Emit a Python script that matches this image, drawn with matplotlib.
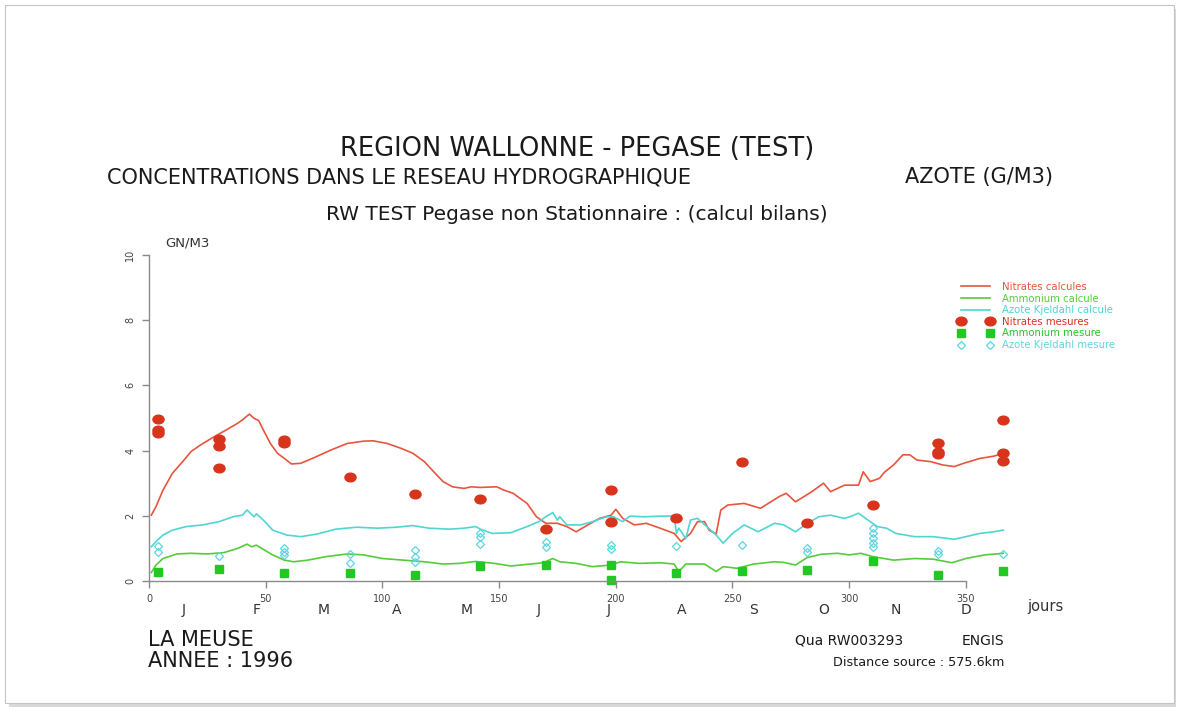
import matplotlib
matplotlib.use('Agg')
import matplotlib.pyplot as plt
from matplotlib.path import Path
from matplotlib.patches import Rectangle
import numpy as np

# simulated series (day of year, g/m3)
nit_days = [1, 3, 6, 10, 15, 18, 22, 28, 33, 38, 40, 43, 45, 47, 49, 52, 55, 58, 61, 65,
            70, 78, 85, 92, 96, 102, 108, 113, 118, 122, 126, 130, 135, 138, 142, 149, 152,
            156, 162, 166, 170, 175, 179, 183, 188, 193, 198, 200, 203, 208, 213, 219, 225,
            228, 232, 235, 238, 240, 243, 245, 248, 255, 262, 270, 273, 277, 284, 289, 292,
            298, 304, 306, 309, 313, 315, 319, 323, 326, 329, 335, 340, 345, 349, 356, 362, 366]
nit_calc = [2.02, 2.28, 2.79, 3.30, 3.71, 3.97, 4.17, 4.43, 4.63, 4.84, 4.94, 5.12, 4.99,
            4.92, 4.63, 4.22, 3.92, 3.76, 3.59, 3.61, 3.76, 4.02, 4.22, 4.29, 4.30, 4.22,
            4.07, 3.92, 3.66, 3.35, 3.05, 2.89, 2.84, 2.89, 2.87, 2.89, 2.79, 2.69, 2.38,
            1.97, 1.77, 1.77, 1.67, 1.51, 1.72, 1.92, 2.02, 2.20, 1.92, 1.72, 1.77, 1.62,
            1.46, 1.21, 1.46, 1.82, 1.82, 1.56, 1.44, 2.18, 2.33, 2.38, 2.23, 2.59, 2.69,
            2.43, 2.74, 3.00, 2.74, 2.94, 2.94, 3.35, 3.05, 3.15, 3.33, 3.56, 3.87, 3.87,
            3.71, 3.66, 3.56, 3.51, 3.61, 3.76, 3.83, 3.92]

kj_days = [1, 3, 6, 10, 16, 23, 30, 36, 40, 42, 45, 46, 49, 53, 59, 65, 72, 80, 89, 98,
           106, 113, 120, 129, 135, 140, 142, 147, 155, 162, 167, 170, 173, 175, 176, 179,
           185, 190, 196, 199, 203, 206, 212, 219, 225, 226, 227, 230, 232, 235, 239, 243,
           246, 250, 255, 261, 268, 272, 277, 282, 287, 292, 298, 301, 304, 308, 312, 316,
           320, 328, 336, 345, 350, 356, 362, 366]
kj_calc = [1.05, 1.21, 1.41, 1.56, 1.67, 1.72, 1.82, 1.97, 2.02, 2.18, 1.97, 2.06, 1.87,
           1.56, 1.41, 1.36, 1.44, 1.59, 1.65, 1.62, 1.65, 1.70, 1.62, 1.59, 1.62, 1.67,
           1.59, 1.46, 1.48, 1.67, 1.82, 1.97, 2.10, 1.87, 1.97, 1.72, 1.72, 1.82, 1.97,
           1.97, 1.82, 1.99, 1.97, 1.99, 1.99, 1.46, 1.62, 1.30, 1.87, 1.92, 1.67, 1.41,
           1.16, 1.46, 1.72, 1.51, 1.77, 1.72, 1.51, 1.77, 1.97, 2.02, 1.92, 1.99, 2.08,
           1.87, 1.67, 1.62, 1.46, 1.36, 1.36, 1.28, 1.36, 1.46, 1.51, 1.56]

nh4_days = [1, 3, 6, 12, 18, 25, 32, 38, 42, 44, 46, 49, 53, 58, 62, 68, 76, 85, 92, 100,
            109, 118, 126, 133, 140, 148, 155, 162, 169, 173, 176, 183, 190, 198, 202, 210,
            219, 225, 227, 230, 238, 243, 246, 252, 259, 268, 272, 277, 282, 288, 295, 300,
            305, 310, 319, 328, 336, 344, 350, 358, 366]
nh4_calc = [0.26, 0.49, 0.69, 0.83, 0.85, 0.83, 0.87, 1.00, 1.13, 1.05, 1.10, 0.97, 0.80,
            0.64, 0.59, 0.64, 0.75, 0.83, 0.80, 0.69, 0.64, 0.59, 0.52, 0.54, 0.60, 0.54,
            0.46, 0.51, 0.56, 0.69, 0.59, 0.54, 0.44, 0.49, 0.59, 0.54, 0.56, 0.52, 0.29,
            0.52, 0.52, 0.29, 0.44, 0.39, 0.52, 0.59, 0.57, 0.49, 0.72, 0.82, 0.85, 0.80,
            0.85, 0.75, 0.64, 0.69, 0.67, 0.56, 0.69, 0.80, 0.85]

# measurements
nit_mes_days = [4, 4, 4, 30, 30, 30, 58, 58, 86, 114, 142, 170, 198, 198, 226, 254, 282,
                310, 338, 338, 338, 366, 366, 366]
nit_mes = [4.97, 4.63, 4.53, 4.35, 4.14, 3.48, 4.33, 4.24, 3.20, 2.66, 2.51, 1.59, 2.79,
           1.80, 1.94, 3.65, 1.77, 2.33, 4.22, 3.97, 3.89, 4.95, 3.94, 3.69]

nh4_mes_days = [4, 30, 58, 86, 114, 142, 170, 198, 198, 226, 254, 282, 310, 338, 366]
nh4_mes = [0.29, 0.36, 0.26, 0.24, 0.18, 0.46, 0.49, 0.49, 0.03, 0.26, 0.31, 0.34, 0.61,
           0.18, 0.32]

kj_mes_days = [4, 4, 30, 58, 58, 58, 86, 86, 114, 114, 114, 142, 142, 142, 170, 170,
               198, 198, 226, 254, 282, 282, 310, 310, 310, 310, 310, 338, 338, 366]
kj_mes = [1.08, 0.90, 0.77, 1.00, 0.90, 0.80, 0.82, 0.56, 0.95, 0.75, 0.58, 1.48, 1.36,
          1.13, 1.20, 1.03, 1.10, 0.98, 1.07, 1.10, 1.00, 0.88, 1.62, 1.46, 1.31, 1.16,
          1.05, 0.92, 0.82, 0.82]

month_letters = ['J', 'F', 'M', 'A', 'M', 'J', 'J', 'A', 'S', 'O', 'N', 'D']
month_mid = [15, 46, 75, 106, 136, 167, 197, 228, 259, 289, 320, 350]

RED_L = '#e8553e'
RED_P = '#d8341c'
GRN_L = '#55cc3a'
GRN_P = '#22c822'
CYN_L = '#4fd6d2'
CYN_P = '#5fd4e0'
AXC = '#8a8a8a'
TXT = '#1a1a1a'

W, H = 1188, 713


def fx(px):
    return px / W


def fy(py):
    return 1 - py / H


def main():

    plt.rcParams['font.family'] = ['DejaVu Sans']

    fig = plt.figure(figsize=(W / 100, H / 100), dpi=100)
    fig.patch.set_facecolor('white')

    # page frame with a light shadow
    fig.patches.append(Rectangle((fx(9), fy(707)), fx(1176) - fx(9), fy(9) - fy(707),
                                 transform=fig.transFigure, facecolor='#d9d9d9',
                                 edgecolor='none', zorder=-3))
    fig.patches.append(Rectangle((fx(5), fy(703)), fx(1174) - fx(5), fy(5) - fy(703),
                                 transform=fig.transFigure, facecolor='white',
                                 edgecolor='#c4c4c4', lw=0.8, zorder=-2))

    # axes: x 0..400 -> px 149..1082.6 ; y 0..10 -> px 581..255
    ax = fig.add_axes([fx(149), fy(581), fx(149 + 933.6) - fx(149), fy(255) - fy(581)])
    ax.set_zorder(2)
    ax.set_xlim(0, 400)
    ax.set_ylim(0, 10)
    ax.patch.set_alpha(0)

    for s in ('top', 'right'):
        ax.spines[s].set_visible(False)
    ax.spines['left'].set_bounds(0, 10)
    ax.spines['bottom'].set_bounds(0, 350)
    for s in ('left', 'bottom'):
        ax.spines[s].set_color(AXC)
        ax.spines[s].set_linewidth(1.0)

    ax.set_xticks(np.arange(0, 351, 50))
    ax.set_yticks(np.arange(0, 11, 2))
    ax.tick_params(axis='both', direction='out', length=5, width=1.0, color=AXC,
                   labelsize=7, labelcolor='#444444')
    ax.tick_params(axis='x', pad=4)
    ax.tick_params(axis='y', pad=5)
    for lab in ax.get_yticklabels():
        lab.set_rotation(90)
        lab.set_va('center')

    # simulated lines
    ax.plot(nit_days, nit_calc, color=RED_L, lw=1.2, label='Nitrates calcules')
    ax.plot(nh4_days, nh4_calc, color=GRN_L, lw=1.2, label='Ammonium calcule')
    ax.plot(kj_days, kj_calc, color=CYN_L, lw=1.2, label='Azote Kjeldahl calcule')

    # measured points
    circ = Path.unit_circle()
    ell = Path(circ.vertices * np.array([1.0, 0.78]), circ.codes)
    ax.plot(nit_mes_days, nit_mes, ls='none', marker=ell, ms=8, color=RED_P,
            mec=RED_P, label='Nitrates mesures', clip_on=False)
    ax.plot(nh4_mes_days, nh4_mes, ls='none', marker='s', ms=6.3, color=GRN_P,
            mec=GRN_P, label='Ammonium mesure', clip_on=False)
    ax.plot(kj_mes_days, kj_mes, ls='none', marker='D', ms=4.2, mfc='none',
            mec=CYN_P, mew=0.9, label='Azote Kjeldahl mesure', clip_on=False)

    leg = ax.legend(loc='upper left', bbox_to_anchor=(fx(958), fy(282)),
                    bbox_transform=fig.transFigure, frameon=False, fontsize=7.3,
                    numpoints=2, handlelength=3.5, handletextpad=0.85,
                    labelspacing=0.16, borderpad=0, borderaxespad=0)
    for txt, col in zip(leg.get_texts(), [RED_L, GRN_L, CYN_L, RED_P, GRN_P, CYN_P]):
        txt.set_color(col)

    # month letters and axis captions
    for d, m in zip(month_mid, month_letters):
        ax.text(d, -0.89, m, ha='center', va='center', fontsize=10, color='#333333')
    fig.text(fx(1027), fy(606), 'jours', ha='left', va='center', fontsize=10.5,
             color='#333333')
    fig.text(fx(165), fy(243), 'GN/M3', ha='left', va='center', fontsize=9.5,
             color='#333333')

    # titles
    fig.text(fx(577), fy(149), 'REGION WALLONNE - PEGASE (TEST)', ha='center',
             va='center', fontsize=18.5, color=TXT)
    fig.text(fx(107), fy(177), 'CONCENTRATIONS DANS LE RESEAU HYDROGRAPHIQUE',
             ha='left', va='center', fontsize=15, color=TXT)
    fig.text(fx(905), fy(177), 'AZOTE (G/M3)', ha='left', va='center', fontsize=15,
             color=TXT)
    fig.text(fx(577), fy(215), 'RW TEST Pegase non Stationnaire : (calcul bilans)',
             ha='center', va='center', fontsize=14.5, color=TXT)

    # footer
    fig.text(fx(148), fy(640), 'LA MEUSE', ha='left', va='center', fontsize=15,
             color=TXT)
    fig.text(fx(148), fy(661), 'ANNEE : 1996', ha='left', va='center', fontsize=15,
             color=TXT)
    fig.text(fx(795), fy(641), 'Qua RW003293', ha='left', va='center', fontsize=10,
             color=TXT)
    fig.text(fx(1004), fy(641), 'ENGIS', ha='right', va='center', fontsize=10,
             color=TXT)
    fig.text(fx(1004), fy(663), 'Distance source : 575.6km', ha='right', va='center',
             fontsize=9.2, color=TXT)

    fig.savefig('out.png', dpi=100)


if __name__ == "__main__":
    main()
